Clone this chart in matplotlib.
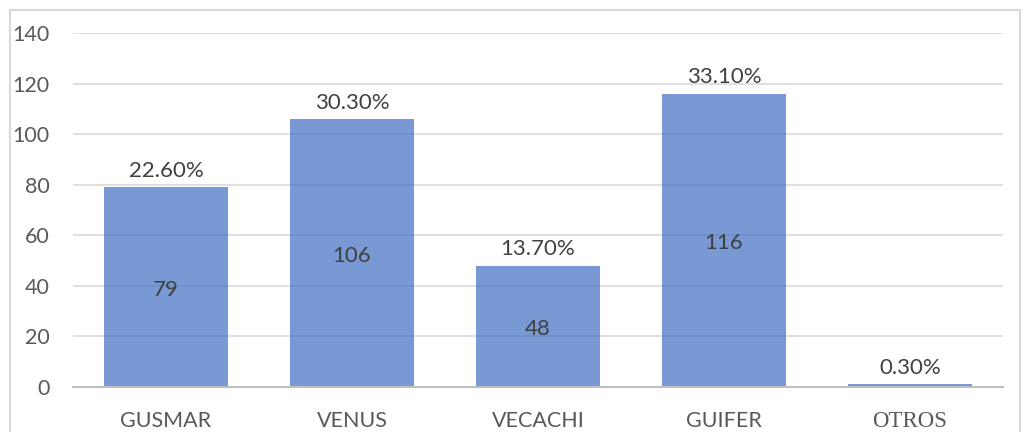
import numpy as np
import matplotlib
matplotlib.use("Agg")
import matplotlib.pyplot as plt
from matplotlib.patches import Rectangle

categories = ["GUSMAR", "VENUS", "VECACHI", "GUIFER", "OTROS"]
values = [79, 106, 48, 116, 1]
percents = ["22.60%", "30.30%", "13.70%", "33.10%", "0.30%"]

plt.rcParams['font.family'] = ['Lato', 'DejaVu Sans']

fig = plt.figure(figsize=(10.3, 4.32), dpi=100)
ax = fig.add_axes([73 / 1030, 45 / 432, 930 / 1030, 354 / 432])

x = np.arange(len(categories))
ax.bar(x, values, width=0.667, color='#4472C4', alpha=0.72, zorder=2)

for xi, v, p in zip(x, values, percents):
    ax.text(xi, v + 2.5, p, ha='center', va='bottom', fontsize=16, color='#404040', zorder=3)
    if v > 5:
        ax.text(xi, v / 2 - 1.2, str(v), ha='center', va='center', fontsize=16, color='#404040', zorder=3)

ax.set_xlim(-0.5, 4.5)
ax.set_ylim(0, 140)
ax.set_yticks(np.arange(0, 141, 20))
ax.set_xticks(x)
ax.set_xticklabels(categories)
ax.tick_params(axis='both', length=0, labelsize=15.5, colors='#595959')
ax.tick_params(axis='x', pad=17)
ax.tick_params(axis='y', pad=17)
for lbl in ax.get_xticklabels():
    if lbl.get_text() == "OTROS":
        lbl.set_family('Liberation Serif')
        lbl.set_fontsize(16.5)
ax.set_axisbelow(True)
ax.grid(axis='y', color='#D9D9D9', linewidth=1.2)
for s in ['top', 'right', 'left']:
    ax.spines[s].set_visible(False)
ax.spines['bottom'].set_color('#BFBFBF')
ax.spines['bottom'].set_linewidth(1.5)

fig.patches.append(Rectangle((10 / 1030, -0.1), 1010 / 1030, 1.1 - 10 / 432,
                             transform=fig.transFigure, fill=False,
                             edgecolor='#D9D9D9', linewidth=1.5))

fig.savefig("out.png", dpi=100)
